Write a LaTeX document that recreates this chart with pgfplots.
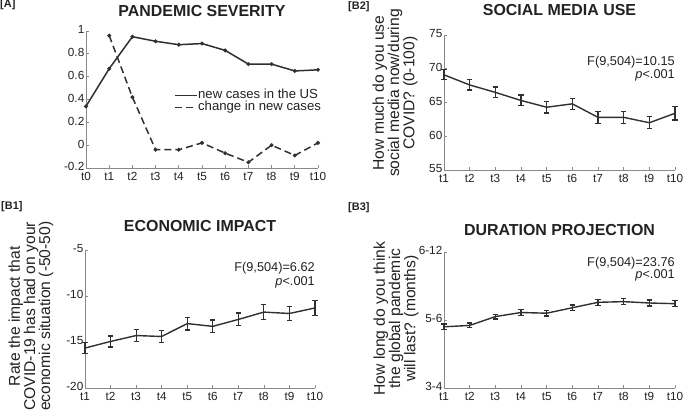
\documentclass[border=0pt]{standalone}
\usepackage{fontspec}
\setmainfont{Liberation Sans}
\usepackage{pgfplots}
\pgfplotsset{compat=1.18}
\definecolor{ln}{HTML}{303030}
\definecolor{axc}{HTML}{8A8A8A}
\definecolor{txt}{HTML}{222222}
\tikzset{ann/.style={anchor=east, inner sep=0pt, font=\fontsize{12.8}{14}\selectfont, text=txt}}
\pgfplotsset{
  base/.style={
    scale only axis, clip=false,
    axis x line*=bottom, axis y line*=left,
    axis line style={axc, line width=0.8bp},
    tick align=inside,
    tick style={axc, line width=0.7bp},
    major tick length=3bp,
    /pgf/number format/assume math mode=true,
    tick label style={font=\fontsize{11.8}{13}\selectfont, text=txt},
    xticklabel style={yshift=-0.6bp},
    yticklabel style={inner sep=1.5bp, yshift=1.2bp},
    title style={font=\fontsize{16}{18}\selectfont\bfseries, text=txt, at={(0.5,1)}, anchor=center},
    ylabel style={font=\fontsize{15.7}{15.3}\selectfont, text=txt, align=center, anchor=center},
    anchor=north west,
  },
  ebar/.style={ln, line width=1.4bp, mark=none,
    error bars/.cd, y dir=both, y explicit,
    error bar style={line width=1.2bp, ln},
    error mark options={rotate=90, mark size=2.6bp, line width=1.2bp, ln}},
}
\begin{document}
\begin{tikzpicture}
\path[use as bounding box] (0,0) rectangle (685bp,414bp);
\tikzset{lab/.style={anchor=west, inner sep=0pt, font=\fontsize{11}{12}\selectfont\bfseries, text=txt}}
\node[lab] at (0bp,409bp) {[A]};
\node[lab] at (348bp,407bp) {[B2]};
\node[lab] at (1bp,207bp) {[B1]};
\node[lab] at (348bp,206bp) {[B3]};

% Panel A
\begin{axis}[base, at={(86bp,383bp)}, width=232bp, height=137bp,
  xmin=0, xmax=10, ymin=-0.2, ymax=1,
  xtick={0,1,2,3,4,5,6,7,8,9,10},
  xticklabels={t0,t1,t2,t3,t4,t5,t6,t7,t8,t9,t10},
  ytick={-0.2,0,0.2,0.4,0.6,0.8,1},
  yticklabels={-0.2,0,0.2,0.4,0.6,0.8,1},
  title={PANDEMIC SEVERITY}, title style={yshift=14bp},
  legend style={at={(axis cs:3.8,0.49)}, anchor=north west, draw=none, fill=none,
    font=\fontsize{13.2}{14}\selectfont, text=txt, inner sep=0pt,
    nodes={inner sep=0.3bp, text height=9bp, text depth=2.6bp}, row sep=0bp},
  legend cell align=left,
  legend image code/.code={\draw[#1] (0bp,0bp) -- (22bp,0bp);},
]
\addplot[ln, line width=1.5bp, mark=*, mark size=1.1bp] coordinates {
 (0,0.34) (1,0.67) (2,0.95) (3,0.91) (4,0.88) (5,0.89) (6,0.83) (7,0.71) (8,0.71) (9,0.65) (10,0.66)};
\addlegendentry{new cases in the US}
\addplot[ln, line width=1.5bp, dash pattern=on 7bp off 4bp, mark=*, mark size=1.1bp, mark options={solid}] coordinates {
 (1,0.96) (2,0.42) (3,-0.04) (4,-0.04) (5,0.02) (6,-0.07) (7,-0.15) (8,0.0) (9,-0.09) (10,0.02)};
\addlegendentry{change in new cases}
\end{axis}

% Panel B2
\begin{axis}[base, at={(444bp,379bp)}, width=231bp, height=135bp,
  xmin=1, xmax=10, ymin=55, ymax=75,
  xtick={1,2,3,4,5,6,7,8,9,10},
  xticklabels={t1,t2,t3,t4,t5,t6,t7,t8,t9,t10},
  ytick={55,60,65,70,75},
  title={SOCIAL MEDIA USE}, title style={yshift=19bp},
  ylabel={How much do you use\\social media now/during\\COVID? (0-100)},
  ylabel style={at={(axis description cs:-0.212,0.57)}},
]
\addplot[ebar] coordinates {
 (1,69.1) +- (0,0.75) (2,67.6) +- (0,0.75) (3,66.5) +- (0,0.8) (4,65.3) +- (0,0.8)
 (5,64.3) +- (0,0.85) (6,64.8) +- (0,0.85) (7,62.8) +- (0,0.9) (8,62.8) +- (0,0.9)
 (9,62.0) +- (0,0.9) (10,63.4) +- (0,1.0)};
\node[ann] at (axis cs:10,71) {F(9,504)=10.15};
\node[ann] at (axis cs:10,69.07) {\textit{p}<.001};
\end{axis}

% Panel B1
\begin{axis}[base, at={(85bp,164bp)}, width=230bp, height=138bp,
  xmin=1, xmax=10, ymin=-20, ymax=-5,
  xtick={1,2,3,4,5,6,7,8,9,10},
  xticklabels={t1,t2,t3,t4,t5,t6,t7,t8,t9,t10},
  ytick={-20,-15,-10,-5},
  yticklabels={-20,-15,-10,-5},
  title={ECONOMIC IMPACT}, title style={yshift=18bp},
  ylabel={Rate the impact that\\COVID-19 has had on your\\economic situation (-50-50)},
  ylabel style={at={(axis description cs:-0.235,0.52)}},
]
\addplot[ebar] coordinates {
 (1,-15.66) +- (0,0.6) (2,-14.94) +- (0,0.6) (3,-14.3) +- (0,0.65) (4,-14.4) +- (0,0.65)
 (5,-13.0) +- (0,0.7) (6,-13.3) +- (0,0.7) (7,-12.55) +- (0,0.7) (8,-11.75) +- (0,0.8)
 (9,-11.9) +- (0,0.75) (10,-11.3) +- (0,0.8)};
\node[ann] at (axis cs:10,-6.96) {F(9,504)=6.62};
\node[ann] at (axis cs:10,-8.48) {\textit{p}<.001};
\end{axis}

% Panel B3
\begin{axis}[base, at={(444bp,162bp)}, width=231bp, height=136bp,
  xmin=1, xmax=10, ymin=1, ymax=3,
  xtick={1,2,3,4,5,6,7,8,9,10},
  xticklabels={t1,t2,t3,t4,t5,t6,t7,t8,t9,t10},
  ytick={1,2,3},
  yticklabels={3-4,5-6,6-12},
  title={DURATION PROJECTION}, title style={yshift=16bp},
  ylabel={How long do you think\\the global pandemic\\will last? (months)},
  ylabel style={at={(axis description cs:-0.208,0.51)}},
]
\addplot[ebar] coordinates {
 (1,1.90) +- (0,0.04) (2,1.92) +- (0,0.035) (3,2.05) +- (0,0.035) (4,2.11) +- (0,0.04)
 (5,2.10) +- (0,0.04) (6,2.18) +- (0,0.04) (7,2.26) +- (0,0.045) (8,2.27) +- (0,0.045)
 (9,2.25) +- (0,0.045) (10,2.24) +- (0,0.045)};
\node[ann] at (axis cs:10,2.84) {F(9,504)=23.76};
\node[ann] at (axis cs:10,2.66) {\textit{p}<.001};
\end{axis}
\end{tikzpicture}
\end{document}
